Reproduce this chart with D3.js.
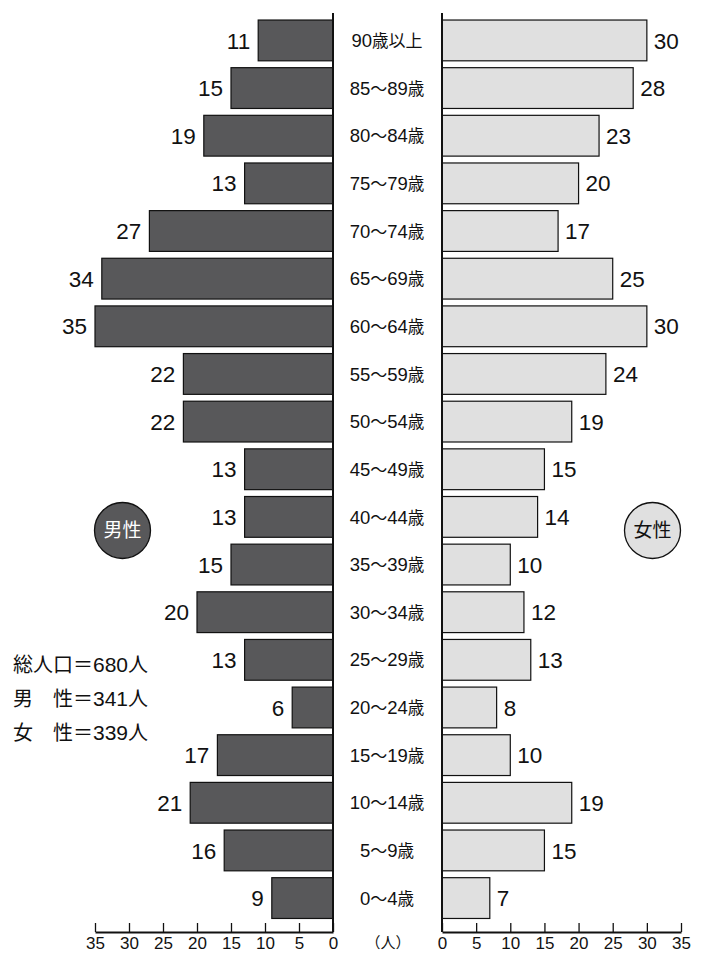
<!DOCTYPE html>
<html><head><meta charset="utf-8">
<script src="https://cdn.jsdelivr.net/npm/d3@7"></script>
<style>body{margin:0;background:#fff}svg{display:block}</style>
</head><body>
<script>
const categories = ["90歳以上","85〜89歳","80〜84歳","75〜79歳","70〜74歳","65〜69歳","60〜64歳","55〜59歳","50〜54歳","45〜49歳","40〜44歳","35〜39歳","30〜34歳","25〜29歳","20〜24歳","15〜19歳","10〜14歳","5〜9歳","0〜4歳"];
const male   = [11,15,19,13,27,34,35,22,22,13,13,15,20,13,6,17,21,16,9];
const female = [30,28,23,20,17,25,30,24,19,15,14,10,12,13,8,10,19,15,7];
const axisTicks = [0,5,10,15,20,25,30,35];
const summaryHeads = ["総人口","男","女"];
const summaryTails = ["＝680人","性＝341人","性＝339人"];

const W=705,H=953;
const LAT="'Liberation Sans', Arial, Helvetica, sans-serif";
const JP="'Noto Sans CJK JP', sans-serif";
const svg=d3.select("body").append("svg").attr("width",W).attr("height",H);

const y=d3.scaleBand().domain(categories).range([16.6,921.9]).paddingInner(0.144).paddingOuter(0.072);
const xm=d3.scaleLinear().domain([0,35]).range([333,95]);
const xf=d3.scaleLinear().domain([0,35]).range([442,681]);
const axisY=932;

// bars
svg.append("g").selectAll("rect").data(categories).join("rect")
  .attr("x",(d,i)=>xm(male[i])).attr("y",d=>y(d))
  .attr("width",(d,i)=>xm(0)-xm(male[i])).attr("height",y.bandwidth())
  .attr("fill","#58585a").attr("stroke","#111").attr("stroke-width",1.2);
svg.append("g").selectAll("rect").data(categories).join("rect")
  .attr("x",xf(0)).attr("y",d=>y(d))
  .attr("width",(d,i)=>xf(female[i])-xf(0)).attr("height",y.bandwidth())
  .attr("fill","#e0e0e0").attr("stroke","#111").attr("stroke-width",1.2);

// value labels
svg.append("g").selectAll("text").data(categories).join("text")
  .attr("x",(d,i)=>xm(male[i])-8).attr("y",d=>y(d)+y.bandwidth()/2)
  .attr("dy","0.36em").attr("text-anchor","end")
  .attr("font-family",LAT).attr("font-size",22.5).attr("fill","#111")
  .text((d,i)=>male[i]);
svg.append("g").selectAll("text").data(categories).join("text")
  .attr("x",(d,i)=>xf(female[i])+7).attr("y",d=>y(d)+y.bandwidth()/2)
  .attr("dy","0.36em").attr("text-anchor","start")
  .attr("font-family",LAT).attr("font-size",22.5).attr("fill","#111")
  .text((d,i)=>female[i]);

// category labels
const cl=svg.append("g").selectAll("text").data(categories).join("text")
  .attr("x",387).attr("y",d=>y(d)+y.bandwidth()/2).attr("dy","0.36em")
  .attr("text-anchor","middle").attr("fill","#111")
  .attr("font-family",LAT).attr("font-size",18.5);
cl.each(function(d){
  const t=d3.select(this);
  const parts=d.match(/[0-9]+|〜|歳|以上/g);
  parts.forEach(p=>{
    const s=t.append("tspan").text(p);
    if(p==="〜") s.attr("font-family",JP).attr("font-size",17);
    else if(p==="歳") s.attr("font-family",JP).attr("font-size",16.5);
    else if(p==="以上") s.attr("font-family",JP).attr("font-size",17);
  });
});

// center vertical lines
[333,442].forEach(x=>svg.append("line").attr("x1",x).attr("x2",x).attr("y1",13).attr("y2",axisY)
  .attr("stroke","#111").attr("stroke-width",2));

// axes
function styleAxis(g){
  g.select(".domain").attr("stroke","#111").attr("stroke-width",2);
  g.selectAll(".tick line").attr("stroke","#111").attr("stroke-width",1.3);
  g.selectAll(".tick text").attr("font-family",LAT).attr("font-size",17).attr("fill","#111");
}
svg.append("g").attr("transform",`translate(0,${axisY})`)
  .call(d3.axisBottom(xm).tickValues(axisTicks).tickSizeInner(-9).tickSizeOuter(0).tickPadding(5))
  .call(styleAxis);
svg.append("g").attr("transform",`translate(0,${axisY})`)
  .call(d3.axisBottom(xf).tickValues(axisTicks).tickSizeInner(-9).tickSizeOuter(0).tickPadding(5))
  .call(styleAxis);
svg.append("text").attr("x",388).attr("y",943).attr("dy","0.36em").attr("text-anchor","middle")
  .attr("font-family",JP).attr("font-size",15).attr("fill","#111").text("（人）");

// gender circles
svg.append("circle").attr("cx",122.5).attr("cy",530.5).attr("r",28)
  .attr("fill","#58585a").attr("stroke","#111").attr("stroke-width",1.3);
svg.append("text").attr("x",122.5).attr("y",530.5).attr("dy","0.36em").attr("text-anchor","middle")
  .attr("font-family",JP).attr("font-size",19).attr("fill","#fff").text("男性");
svg.append("circle").attr("cx",652.5).attr("cy",530.5).attr("r",28)
  .attr("fill","#e0e0e0").attr("stroke","#111").attr("stroke-width",1.3);
svg.append("text").attr("x",652.5).attr("y",530.5).attr("dy","0.36em").attr("text-anchor","middle")
  .attr("font-family",JP).attr("font-size",19).attr("fill","#111").text("女性");

// summary
const sumY=[665,699,733];
svg.append("g").selectAll("text").data(summaryHeads).join("text")
  .attr("x",13).attr("y",(d,i)=>sumY[i]).attr("dy","0.36em")
  .attr("font-family",JP).attr("font-size",20).attr("fill","#111").text(d=>d);
svg.append("g").selectAll("text").data(summaryTails).join("text")
  .attr("x",(d,i)=>i===0?73:53).attr("y",(d,i)=>sumY[i]).attr("dy","0.36em")
  .attr("font-family",JP).attr("font-size",20).attr("fill","#111")
  .each(function(d){
    const t=d3.select(this);
    d.match(/[0-9]+|[^0-9]+/g).forEach(p=>{
      const s=t.append("tspan").text(p);
      if(/[0-9]/.test(p)) s.attr("font-family",LAT).attr("font-size",21);
    });
  });
</script>
</body></html>
